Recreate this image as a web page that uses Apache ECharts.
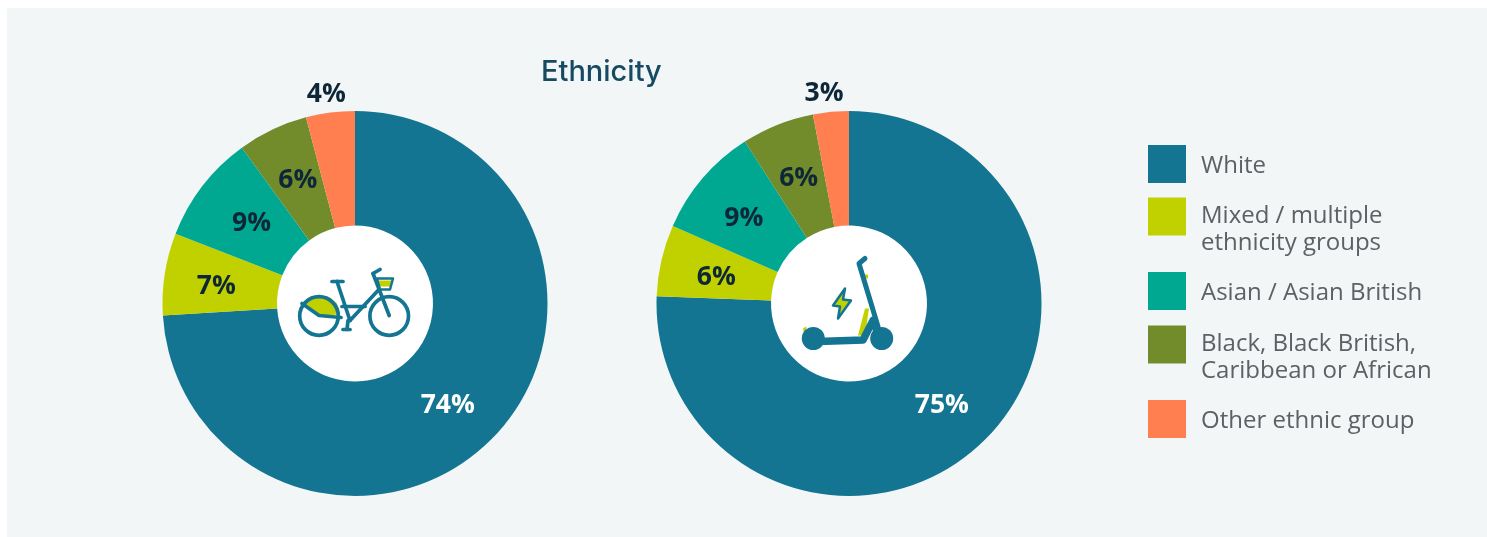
<!DOCTYPE html>
<html lang="en">
<head>
<meta charset="UTF-8">
<title>Ethnicity</title>
<script src="https://cdn.jsdelivr.net/npm/echarts@6/dist/echarts.min.js"></script>
<style>
    html, body { margin: 0; padding: 0; background: #fff; }
    #main { width: 1487px; height: 537px; }
</style>
</head>
<body>
<div id="main"></div>
<script>
// slice sizes, printed labels kept apart (they are rounded)
const categories = ['White', 'Mixed / multiple\nethnicity groups', 'Asian / Asian British', 'Black, Black British,\nCaribbean or African', 'Other ethnic group'];
const bikeValues = [74, 6.9, 9.1, 5.9, 4.1];
const bikeLabels = ['74%', '7%', '9%', '6%', '4%'];
const scooterValues = [75.6, 6, 9.3, 6.1, 3];
const scooterLabels = ['75%', '6%', '9%', '6%', '3%'];
const colors = ['#137592', '#c1d100', '#00a891', '#728c2b', '#ff7f50'];
const labelColors = ['#ffffff', '#0e2738', '#0e2738', '#0e2738', '#0e2738'];

const teal = '#137592';
const lime = '#c1d100';
const FONT = '"Open Sans", "Noto Sans", sans-serif';

// nudges from the default inside position, the small last slice sits above the pie
const bikeShifts = [[-8, 7], [-2, 4], [6, 4], [2, 2], [-11, -72]];
const scooterShifts = [[-3, 2], [2, 5], [0, 5], [1, 3], [-12, -72]];

function pie(cx, values, labels, shifts) {
    return {
        type: 'pie',
        center: [cx, 303.5],
        radius: [78, 192.5],
        startAngle: 90,
        clockwise: true,
        silent: true,
        animation: false,
        itemStyle: { borderWidth: 0 },
        labelLine: { show: false },
        label: { position: 'inside', fontFamily: FONT, fontWeight: 'bold', fontSize: 26.5 },
        labelLayout: p => ({ dx: shifts[p.dataIndex][0], dy: shifts[p.dataIndex][1] }),
        data: values.map((v, i) => ({
            name: categories[i],
            value: v,
            itemStyle: { color: colors[i] },
            label: { formatter: labels[i], color: labelColors[i] }
        }))
    };
}

// one legend per row: the rows are spaced unevenly and the text hangs off the top of the swatch
const legendTops = [145, 197, 272, 325, 400];
const legends = categories.map((name, i) => {
    const two = name.indexOf('\n') >= 0;
    return {
        data: [name],
        left: 1148,
        top: two ? legendTops[i] - 21 : legendTops[i],
        orient: 'vertical',
        icon: 'rect',
        itemWidth: 38,
        itemHeight: 38,
        padding: 0,
        selectedMode: false,
        // blank first line puts the first text line level with the swatch middle,
        // single lines sit 2px under the middle
        formatter: n => (two ? '\n' + n : '{s|' + n + '}'),
        textStyle: {
            fontFamily: FONT, fontSize: 24, color: '#5d6064', lineHeight: 27,
            padding: [0, 0, 0, 10],
            rich: { s: { fontFamily: FONT, fontSize: 24, color: '#5d6064', padding: [4, 0, 0, 0] } }
        }
    };
});

const line = (points, width, color) => ({
    type: 'polyline',
    shape: { points: points },
    style: { stroke: color || teal, lineWidth: width || 3.7, fill: null, lineCap: 'round', lineJoin: 'round' }
});
const ring = (x, y, r, width) => ({
    type: 'circle',
    shape: { cx: x, cy: y, r: r },
    style: { stroke: teal, lineWidth: width || 3.7, fill: null }
});
const dot = (x, y, r) => ({ type: 'circle', shape: { cx: x, cy: y, r: r }, style: { fill: teal } });
const poly = (points, fill) => ({ type: 'polygon', shape: { points: points }, style: { fill: fill } });

// icons are offsets from the hole centre
const bikeIcon = {
    type: 'group', x: 355, y: 303.5,
    children: [
        poly([[-52, 0], [-44, -6], [-35, -8], [-25, -6], [-18, 0], [-15, 11], [-36, 12]], lime),
        ring(-36, 12.5, 19.3), ring(34.2, 12.5, 19.3),
        line([[-53, 0], [-36, 12], [-14, 14]]),
        line([[-18, -22], [-5, 17]]),
        line([[-23, -22], [-12, -22]]),
        line([[-13, 3], [10, 3]]),
        line([[-5, 17], [23, -13]]),
        line([[18, -30], [34.2, 12]]),
        line([[18, -30], [25, -34]]),
        line([[-7, 17], [-8, 26]]),
        line([[-12, 26], [-5, 26]]),
        poly([[23, -23], [37, -23], [35, -17], [25, -17]], lime),
        {
            type: 'polygon', shape: { points: [[22, -25], [38, -25], [35, -14], [25, -14]] },
            style: { fill: null, stroke: teal, lineWidth: 2.5, lineJoin: 'round' }
        }
    ]
};
const scooterIcon = {
    type: 'group', x: 849, y: 303.5,
    children: [
        poly([[-46, 25], [-43, 23], [-41, 30], [-45, 30]], lime),
        poly([[9, 32], [16, 5], [20, 5], [16, 32]], lime),
        poly([[15, -29], [19, -29], [19, -25], [15, -25]], lime),
        dot(-35.7, 35, 11.5), dot(32.7, 35, 11.5),
        line([[16, -45], [10, -40], [29, 23]], 5),
        line([[-31, 38], [14, 36.5], [24, 17]], 7.5),
        line([[25, 22], [30, 34]], 6),
        {
            type: 'polygon',
            shape: { points: [[-4, -15], [-16, 2], [-9, 3], [-11, 15], [2, -3], [-6, -4]] },
            style: { fill: lime, stroke: teal, lineWidth: 2.5, lineJoin: 'round' }
        }
    ]
};

const chart = echarts.init(document.getElementById('main'));
chart.setOption({
    animation: false,
    title: {
        text: 'Ethnicity', left: 541, top: 58, padding: 0,
        textStyle: { fontFamily: '"Inter", "Noto Sans", sans-serif', fontWeight: 500, fontSize: 29, color: '#164a63' }
    },
    legend: legends,
    graphic: [
        { type: 'rect', z: -10, silent: true, shape: { x: 7, y: 8, width: 1480, height: 529 }, style: { fill: '#f2f6f7' } },
        { type: 'circle', z: -5, silent: true, shape: { cx: 355, cy: 303.5, r: 78 }, style: { fill: '#fff' } },
        { type: 'circle', z: -5, silent: true, shape: { cx: 849, cy: 303.5, r: 78 }, style: { fill: '#fff' } },
        bikeIcon,
        scooterIcon
    ],
    series: [
        pie(355, bikeValues, bikeLabels, bikeShifts),
        pie(849, scooterValues, scooterLabels, scooterShifts)
    ]
});
</script>
</body>
</html>
